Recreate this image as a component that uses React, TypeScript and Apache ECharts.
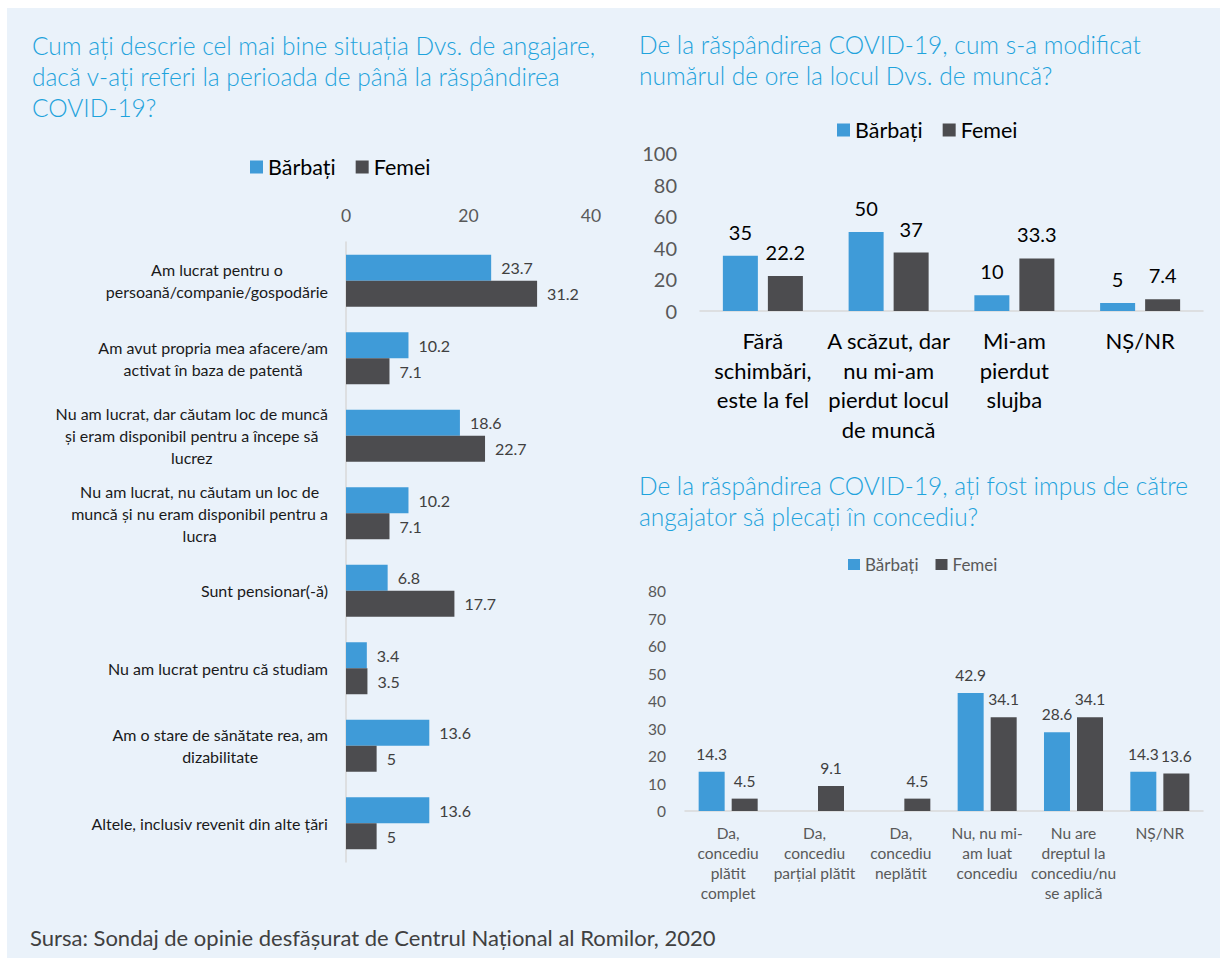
import React, { useEffect, useRef } from "react";
import * as echarts from "echarts";

const seriesNames = ["Bărbați", "Femei"];

const titleEmployment =
  "Cum ați descrie cel mai bine situația Dvs. de angajare,\ndacă v-ați referi la perioada de până la răspândirea\nCOVID-19?";
const titleHours =
  "De la răspândirea COVID-19, cum s-a modificat\nnumărul de ore la locul Dvs. de muncă?";
const titleLeave =
  "De la răspândirea COVID-19, ați fost impus de către\nangajator să plecați în concediu?";
const sourceText =
  "Sursa: Sondaj de opinie desfășurat de Centrul Național al Romilor, 2020";

const employmentCategories = [
  "Am lucrat pentru o\npersoană/companie/gospodărie",
  "Am avut propria mea afacere/am\nactivat în baza de patentă",
  "Nu am lucrat, dar căutam loc de muncă\nși eram disponibil pentru a începe să\nlucrez",
  "Nu am lucrat, nu căutam un loc de\nmuncă și nu eram disponibil pentru a\nlucra",
  "Sunt pensionar(-ă)",
  "Nu am lucrat pentru că studiam",
  "Am o stare de sănătate rea, am\ndizabilitate",
  "Altele, inclusiv revenit din alte țări",
];
const employmentMen = [23.7, 10.2, 18.6, 10.2, 6.8, 3.4, 13.6, 13.6];
const employmentWomen = [31.2, 7.1, 22.7, 7.1, 17.7, 3.5, 5, 5];
const employmentTicks = { min: 0, max: 40, interval: 20 };

const hoursCategories = [
  "Fără\nschimbări,\neste la fel",
  "A scăzut, dar\nnu mi-am\npierdut locul\nde muncă",
  "Mi-am\npierdut\nslujba",
  "NȘ/NR",
];
const hoursMen = [35, 50, 10, 5];
const hoursWomen = [22.2, 37, 33.3, 7.4];
const hoursTicks = { min: 0, max: 100, interval: 20 };

const leaveCategories = [
  "Da,\nconcediu\nplătit\ncomplet",
  "Da,\nconcediu\nparțial plătit",
  "Da,\nconcediu\nneplătit",
  "Nu, nu mi-\nam luat\nconcediu",
  "Nu are\ndreptul la\nconcediu/nu\nse aplică",
  "NȘ/NR",
];
const leaveMen: (number | null)[] = [14.3, null, null, 42.9, 28.6, 14.3];
const leaveWomen = [4.5, 9.1, 4.5, 34.1, 34.1, 13.6];
const leaveTicks = { min: 0, max: 80, interval: 10 };

const FONT = "Lato, 'Open Sans', sans-serif";
const BLUE = "#3F9BD8";
const DARK = "#4C4C4F";
const TITLE = "#1FA3DC";

export default function App() {
  const ref = useRef<HTMLDivElement>(null);

  useEffect(() => {
    if (!ref.current) return;
    const chart = echarts.init(ref.current, undefined, { renderer: "svg" });

    const titleStyle = {
      fontSize: 24.5,
      lineHeight: 31,
      color: TITLE,
      fontWeight: 300 as any,
      fontFamily: FONT,
    };

    const option: any = {
      animation: false,
      textStyle: { fontFamily: FONT },
      graphic: [
        {
          type: "rect",
          shape: { x: 7, y: 8, width: 1213, height: 950 },
          style: { fill: "#EAF2FA" },
          z: -10,
          silent: true,
        },
        {
          type: "text",
          x: 30,
          y: 937,
          style: {
            text: sourceText,
            fontSize: 22,
            fill: "#404040",
            fontFamily: FONT,
            verticalAlign: "middle",
          },
        },
      ],
      title: [
        { text: titleEmployment, left: 32, top: 30, padding: 0, textStyle: titleStyle },
        { text: titleHours, left: 639, top: 29, padding: 0, textStyle: titleStyle },
        { text: titleLeave, left: 639, top: 470, padding: 0, textStyle: titleStyle },
      ],
      legend: [
        {
          data: seriesNames,
          left: 250,
          top: 156,
          icon: "rect",
          itemWidth: 13,
          itemHeight: 13,
          itemGap: 20,
          padding: 0,
          textStyle: { fontSize: 21.5, color: "#000", fontFamily: FONT },
        },
        {
          data: seriesNames,
          left: 837,
          top: 119,
          icon: "rect",
          itemWidth: 13,
          itemHeight: 13,
          itemGap: 20,
          padding: 0,
          textStyle: { fontSize: 21.5, color: "#000", fontFamily: FONT },
        },
        {
          data: seriesNames,
          left: 848,
          top: 556,
          icon: "rect",
          itemWidth: 12,
          itemHeight: 11,
          itemGap: 17,
          padding: 0,
          textStyle: { fontSize: 17, color: "#595959", fontFamily: FONT },
        },
      ],
      grid: [
        { left: 346, top: 242, width: 245, height: 620, outerBoundsMode: "none" },
        { left: 700, top: 153, width: 503, height: 158, outerBoundsMode: "none" },
        { left: 685, top: 591, width: 518, height: 220, outerBoundsMode: "none" },
      ],
      xAxis: [
        {
          gridIndex: 0,
          type: "value",
          position: "top",
          ...employmentTicks,
          axisLine: { show: false },
          axisTick: { show: false },
          splitLine: { show: false },
          axisLabel: { fontSize: 17.5, color: "#595959", margin: 18 },
        },
        {
          gridIndex: 1,
          type: "category",
          data: hoursCategories,
          axisLine: { lineStyle: { color: "#D9D9D9", width: 1.5 } },
          axisTick: { show: false },
          axisLabel: {
            interval: 0,
            fontSize: 22,
            lineHeight: 29.5,
            color: "#000",
            margin: 15,
          },
        },
        {
          gridIndex: 2,
          type: "category",
          data: leaveCategories,
          axisLine: { lineStyle: { color: "#D9D9D9", width: 1.5 } },
          axisTick: { show: false },
          axisLabel: {
            interval: 0,
            fontSize: 15.5,
            lineHeight: 20,
            color: "#595959",
            margin: 12,
          },
        },
      ],
      yAxis: [
        {
          gridIndex: 0,
          type: "category",
          inverse: true,
          data: employmentCategories,
          axisLine: { lineStyle: { color: "#D9D9D9", width: 1.5 } },
          axisTick: { show: false },
          axisLabel: {
            interval: 0,
            fontSize: 16,
            lineHeight: 22,
            color: "#1A1A1A",
            margin: 18,
            formatter: (v: string) =>
              v
                .split("\n")
                .map((l) => `{c|${l}}`)
                .join("\n"),
            rich: { c: { align: "center", fontSize: 16, lineHeight: 22, color: "#1A1A1A" } },
          },
        },
        {
          gridIndex: 1,
          type: "value",
          ...hoursTicks,
          axisLine: { show: false },
          axisTick: { show: false },
          splitLine: { show: false },
          axisLabel: { fontSize: 20, color: "#595959", margin: 23 },
        },
        {
          gridIndex: 2,
          type: "value",
          ...leaveTicks,
          axisLine: { show: false },
          axisTick: { show: false },
          splitLine: { show: false },
          axisLabel: { fontSize: 15.5, color: "#595959", margin: 19 },
        },
      ],
      series: [
        {
          name: seriesNames[0],
          type: "bar",
          xAxisIndex: 0,
          yAxisIndex: 0,
          data: employmentMen,
          barWidth: 26,
          barGap: "0%",
          itemStyle: { color: BLUE },
          label: { show: true, position: "right", distance: 10, fontSize: 16, color: "#404040" },
        },
        {
          name: seriesNames[1],
          type: "bar",
          xAxisIndex: 0,
          yAxisIndex: 0,
          data: employmentWomen,
          barWidth: 26,
          barGap: "0%",
          itemStyle: { color: DARK },
          label: { show: true, position: "right", distance: 10, fontSize: 16, color: "#404040" },
        },
        {
          name: seriesNames[0],
          type: "bar",
          xAxisIndex: 1,
          yAxisIndex: 1,
          data: hoursMen,
          barWidth: 35,
          barGap: "28.6%",
          itemStyle: { color: BLUE },
          label: { show: true, position: "top", distance: 14, fontSize: 20, color: "#000" },
        },
        {
          name: seriesNames[1],
          type: "bar",
          xAxisIndex: 1,
          yAxisIndex: 1,
          data: hoursWomen,
          barWidth: 35,
          barGap: "28.6%",
          itemStyle: { color: DARK },
          label: { show: true, position: "top", distance: 14, fontSize: 20, color: "#000" },
        },
        {
          name: seriesNames[0],
          type: "bar",
          xAxisIndex: 2,
          yAxisIndex: 2,
          data: leaveMen.map((v) => (v === null ? "-" : v)),
          barWidth: 26,
          barGap: "27%",
          itemStyle: { color: BLUE },
          label: { show: true, position: "top", distance: 10, fontSize: 15.5, color: "#404040" },
        },
        {
          name: seriesNames[1],
          type: "bar",
          xAxisIndex: 2,
          yAxisIndex: 2,
          data: leaveWomen,
          barWidth: 26,
          barGap: "27%",
          itemStyle: { color: DARK },
          label: { show: true, position: "top", distance: 10, fontSize: 15.5, color: "#404040" },
        },
      ],
    };

    chart.setOption(option);
    return () => chart.dispose();
  }, []);

  return (
    <div
      ref={ref}
      style={{ position: "fixed", left: 0, top: 0, width: 1220, height: 961, background: "#fff" }}
    />
  );
}
